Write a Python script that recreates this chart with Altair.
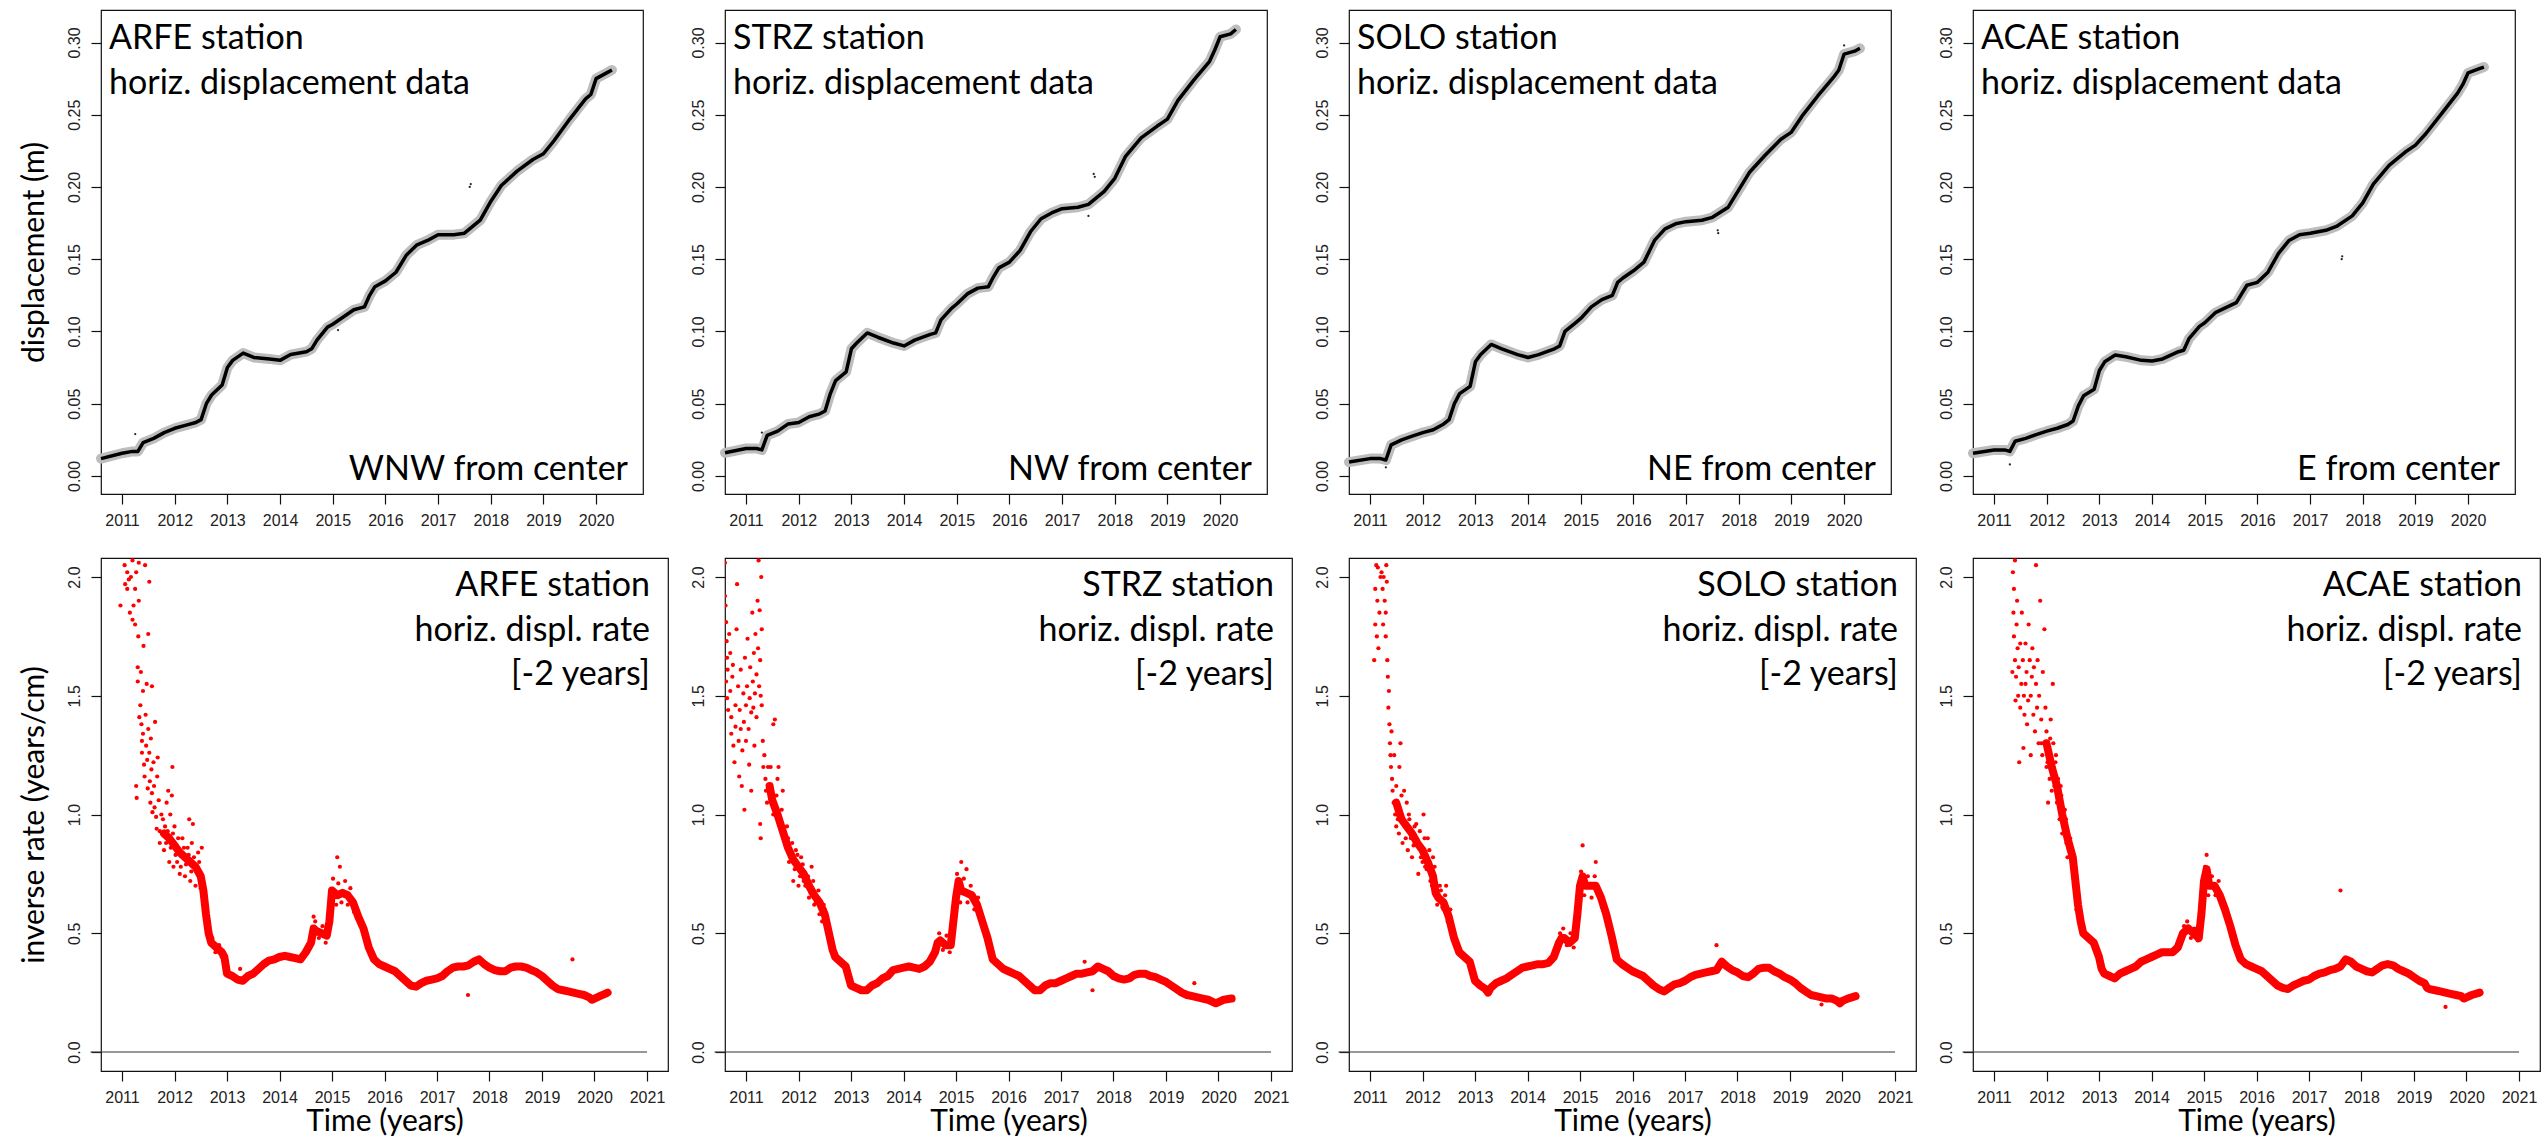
import altair as alt
import pandas as pd

STATIONS = ["ARFE", "STRZ", "SOLO", "ACAE"]
DIRECTIONS = ["WNW from center", "NW from center", "NE from center", "E from center"]
YEAR_TICKS_TOP = [2011, 2012, 2013, 2014, 2015, 2016, 2017, 2018, 2019, 2020]
YEAR_TICKS_BOT = [2011, 2012, 2013, 2014, 2015, 2016, 2017, 2018, 2019, 2020, 2021]
DISP_TICKS = [0.0, 0.05, 0.10, 0.15, 0.20, 0.25, 0.30]
RATE_TICKS = [0.0, 0.5, 1.0, 1.5, 2.0]

# ---- top row: horizontal displacement (m) ----
T_TOP = [2010.6, 2011.0, 2011.2, 2011.3, 2011.4, 2011.6, 2011.8, 2012.0, 2012.2, 2012.4,
         2012.5, 2012.6, 2012.7, 2012.9, 2013.0, 2013.1, 2013.3, 2013.5, 2013.8, 2014.0,
         2014.2, 2014.5, 2014.6, 2014.7, 2014.9, 2015.0, 2015.2, 2015.4, 2015.6, 2015.7,
         2015.8, 2016.0, 2016.2, 2016.4, 2016.6, 2016.8, 2017.0, 2017.3, 2017.5, 2017.8,
         2018.0, 2018.2, 2018.5, 2018.8, 2019.0, 2019.2, 2019.5, 2019.8, 2019.9, 2020.0,
         2020.2, 2020.3]
ARFE_DISP = [0.012, 0.0157, 0.017, 0.017, 0.023, 0.026, 0.030, 0.033, 0.035, 0.037,
             0.039, 0.050, 0.056, 0.063, 0.075, 0.080, 0.085, 0.082, 0.081, 0.080,
             0.084, 0.086, 0.088, 0.094, 0.103, 0.105, 0.110, 0.115, 0.117, 0.125,
             0.131, 0.135, 0.141, 0.153, 0.160, 0.163, 0.167, 0.167, 0.168, 0.177,
             0.190, 0.201, 0.211, 0.219, 0.223, 0.232, 0.247, 0.261, 0.264, 0.275,
             0.279, 0.281]
STRZ_DISP = [0.016, 0.019, 0.019, 0.018, 0.028, 0.031, 0.036, 0.037, 0.041, 0.043,
             0.045, 0.057, 0.066, 0.072, 0.088, 0.092, 0.099, 0.096, 0.092, 0.090,
             0.094, 0.098, 0.099, 0.108, 0.116, 0.119, 0.126, 0.130, 0.131, 0.138,
             0.144, 0.148, 0.156, 0.169, 0.178, 0.182, 0.185, 0.186, 0.188, 0.197,
             0.206, 0.221, 0.234, 0.242, 0.247, 0.260, 0.274, 0.287, 0.295, 0.304,
             0.306, 0.309]
SOLO_DISP = [0.0096, 0.012, 0.012, 0.011, 0.0215, 0.025, 0.0275, 0.030, 0.032, 0.036,
             0.039, 0.050, 0.057, 0.062, 0.079, 0.084, 0.091, 0.088, 0.084, 0.082,
             0.084, 0.088, 0.090, 0.100, 0.106, 0.109, 0.117, 0.122, 0.125, 0.134,
             0.137, 0.142, 0.148, 0.163, 0.171, 0.1745, 0.176, 0.177, 0.179, 0.186,
             0.198, 0.210, 0.222, 0.233, 0.238, 0.249, 0.263, 0.276, 0.281, 0.292,
             0.294, 0.296]
ACAE_DISP = [0.0157, 0.018, 0.018, 0.017, 0.024, 0.026, 0.0286, 0.031, 0.033, 0.0356,
             0.038, 0.0485, 0.0555, 0.060, 0.073, 0.079, 0.0837, 0.0825, 0.080, 0.0795,
             0.081, 0.086, 0.087, 0.095, 0.1035, 0.106, 0.113, 0.1165, 0.120, 0.126,
             0.132, 0.134, 0.141, 0.154, 0.163, 0.167, 0.168, 0.170, 0.1727, 0.180,
             0.189, 0.202, 0.215, 0.224, 0.229, 0.237, 0.251, 0.265, 0.271, 0.279,
             0.2817, 0.283]
ARFE_DISP_OUT = [(2011.25, 0.029), (2017.6, 0.200), (2017.62, 0.202), (2015.1, 0.101)]
STRZ_DISP_OUT = [(2011.3, 0.030), (2017.6, 0.209), (2017.62, 0.207), (2017.5, 0.180)]
SOLO_DISP_OUT = [(2017.6, 0.170), (2017.61, 0.168), (2011.3, 0.006), (2020.0, 0.298)]
ACAE_DISP_OUT = [(2017.6, 0.150), (2017.61, 0.152), (2011.3, 0.008)]

# ---- bottom row: inverse displacement rate (years/cm) ----
ARFE_RATE = [(2011.8, 0.92), (2011.9, 0.90), (2012.0, 0.87), (2012.1, 0.84), (2012.2, 0.82),
             (2012.3, 0.80), (2012.4, 0.78), (2012.5, 0.74), (2012.55, 0.68), (2012.6, 0.58),
             (2012.65, 0.50), (2012.7, 0.46), (2012.8, 0.44), (2012.9, 0.42), (2012.95, 0.40),
             (2013.0, 0.33), (2013.1, 0.32), (2013.2, 0.305), (2013.3, 0.30), (2013.4, 0.32),
             (2013.5, 0.33), (2013.6, 0.35), (2013.7, 0.37), (2013.8, 0.385), (2013.9, 0.39),
             (2014.0, 0.40), (2014.1, 0.405), (2014.2, 0.40), (2014.3, 0.395), (2014.4, 0.39),
             (2014.5, 0.42), (2014.6, 0.46), (2014.65, 0.52), (2014.7, 0.51), (2014.8, 0.50),
             (2014.9, 0.49), (2014.95, 0.55), (2015.0, 0.68), (2015.1, 0.66), (2015.2, 0.67),
             (2015.3, 0.66), (2015.4, 0.63), (2015.5, 0.57), (2015.6, 0.52), (2015.7, 0.44),
             (2015.8, 0.39), (2015.9, 0.37), (2016.0, 0.36), (2016.1, 0.35), (2016.2, 0.34),
             (2016.3, 0.32), (2016.4, 0.30), (2016.5, 0.28), (2016.6, 0.275), (2016.7, 0.29),
             (2016.8, 0.30), (2016.9, 0.305), (2017.0, 0.31), (2017.1, 0.32), (2017.2, 0.34),
             (2017.3, 0.355), (2017.4, 0.36), (2017.5, 0.36), (2017.6, 0.365), (2017.7, 0.38),
             (2017.8, 0.39), (2017.9, 0.37), (2018.0, 0.355), (2018.1, 0.345), (2018.2, 0.34),
             (2018.3, 0.34), (2018.4, 0.355), (2018.5, 0.36), (2018.6, 0.36), (2018.7, 0.355),
             (2018.8, 0.345), (2018.9, 0.335), (2019.0, 0.32), (2019.1, 0.30), (2019.2, 0.28),
             (2019.3, 0.265), (2019.4, 0.26), (2019.5, 0.255), (2019.6, 0.25), (2019.7, 0.245),
             (2019.8, 0.24), (2019.9, 0.23), (2019.95, 0.22), (2020.0, 0.225), (2020.1, 0.235),
             (2020.2, 0.245), (2020.25, 0.25)]
ARFE_RATE_PTS = [(2010.97, 1.88), (2011.05, 2.05), (2011.06, 1.97), (2011.1, 1.95), (2011.1, 2.02),
                 (2011.13, 1.99), (2011.15, 1.85), (2011.17, 2.0), (2011.2, 1.82), (2011.2, 2.07),
                 (2011.22, 1.88), (2011.25, 1.8), (2011.25, 1.95), (2011.27, 2.02), (2011.27, 1.12),
                 (2011.28, 1.07), (2011.3, 1.62), (2011.3, 1.56), (2011.31, 1.75), (2011.32, 1.9),
                 (2011.32, 2.06), (2011.33, 1.41), (2011.35, 1.46), (2011.36, 1.6), (2011.37, 1.38),
                 (2011.38, 1.31), (2011.38, 1.26), (2011.4, 1.52), (2011.4, 1.34), (2011.41, 1.71),
                 (2011.42, 1.21), (2011.43, 1.16), (2011.44, 2.05), (2011.45, 1.42), (2011.46, 1.29),
                 (2011.47, 1.55), (2011.48, 1.23), (2011.49, 1.11), (2011.5, 1.36), (2011.5, 1.76),
                 (2011.52, 1.26), (2011.53, 1.14), (2011.54, 1.05), (2011.52, 1.98), (2011.55, 1.32),
                 (2011.56, 1.19), (2011.57, 1.09), (2011.58, 1.01), (2011.57, 1.54), (2011.6, 1.22),
                 (2011.61, 1.12), (2011.62, 1.03), (2011.63, 1.39), (2011.65, 0.99), (2011.66, 0.94),
                 (2011.67, 1.16), (2011.68, 1.24), (2011.7, 1.06), (2011.72, 0.93), (2011.75, 1.0),
                 (2011.8, 0.85), (2011.82, 0.95), (2011.85, 1.05), (2011.88, 1.1), (2011.9, 0.8),
                 (2011.92, 1.0), (2011.95, 1.08), (2011.96, 1.2), (2011.98, 0.78), (2012.0, 0.95),
                 (2012.05, 0.8), (2012.1, 0.75), (2012.15, 0.9), (2012.2, 0.74), (2012.25, 0.86),
                 (2012.28, 0.98), (2012.3, 0.72), (2012.33, 0.88), (2012.35, 0.96), (2012.4, 0.7),
                 (2012.45, 0.84), (2012.5, 0.69), (2012.52, 0.86), (2012.55, 0.62), (2013.25, 0.35),
                 (2017.59, 0.24), (2019.58, 0.39), (2015.1, 0.82), (2015.15, 0.78), (2014.65, 0.57),
                 (2011.72, 0.88), (2011.78, 0.98), (2011.84, 0.88), (2011.87, 0.93), (2011.93, 0.86),
                 (2011.97, 0.92), (2012.02, 0.83), (2012.07, 0.9), (2012.12, 0.78), (2012.18, 0.86),
                 (2012.22, 0.79), (2012.27, 0.83), (2012.32, 0.76), (2012.37, 0.82), (2012.42, 0.76),
                 (2012.47, 0.8), (2012.53, 0.72), (2012.58, 0.64), (2012.62, 0.55), (2015.02, 0.73),
                 (2015.08, 0.62), (2015.12, 0.71), (2015.18, 0.63), (2015.25, 0.72), (2015.3, 0.62),
                 (2015.35, 0.69), (2015.42, 0.59), (2015.47, 0.6), (2014.62, 0.49), (2014.68, 0.55),
                 (2014.75, 0.48), (2014.82, 0.53), (2014.88, 0.46), (2012.72, 0.48), (2012.78, 0.42),
                 (2012.85, 0.45), (2012.9, 0.40)]

STRZ_RATE = [(2011.45, 1.12), (2011.5, 1.06), (2011.6, 1.0), (2011.7, 0.93), (2011.8, 0.86),
             (2011.9, 0.81), (2012.0, 0.78), (2012.1, 0.75), (2012.2, 0.70), (2012.3, 0.66),
             (2012.4, 0.63), (2012.5, 0.58), (2012.6, 0.48), (2012.65, 0.43), (2012.7, 0.40),
             (2012.8, 0.38), (2012.9, 0.36), (2013.0, 0.28), (2013.1, 0.27), (2013.2, 0.26),
             (2013.3, 0.26), (2013.4, 0.28), (2013.5, 0.29), (2013.6, 0.31), (2013.7, 0.32),
             (2013.8, 0.345), (2013.9, 0.35), (2014.0, 0.355), (2014.1, 0.36), (2014.2, 0.355),
             (2014.3, 0.35), (2014.4, 0.36), (2014.5, 0.38), (2014.6, 0.42), (2014.65, 0.46),
             (2014.7, 0.47), (2014.8, 0.45), (2014.9, 0.45), (2014.95, 0.55), (2015.0, 0.65),
             (2015.05, 0.72), (2015.1, 0.68), (2015.2, 0.67), (2015.3, 0.66), (2015.4, 0.62),
             (2015.5, 0.55), (2015.6, 0.48), (2015.7, 0.39), (2015.8, 0.37), (2015.9, 0.35),
             (2016.0, 0.34), (2016.1, 0.33), (2016.2, 0.32), (2016.3, 0.30), (2016.4, 0.28),
             (2016.5, 0.26), (2016.6, 0.26), (2016.7, 0.28), (2016.8, 0.29), (2016.9, 0.29),
             (2017.0, 0.30), (2017.1, 0.31), (2017.2, 0.32), (2017.3, 0.33), (2017.4, 0.33),
             (2017.5, 0.335), (2017.6, 0.34), (2017.7, 0.36), (2017.8, 0.35), (2017.9, 0.34),
             (2018.0, 0.32), (2018.1, 0.31), (2018.2, 0.305), (2018.3, 0.31), (2018.4, 0.325),
             (2018.5, 0.33), (2018.6, 0.33), (2018.7, 0.32), (2018.8, 0.315), (2018.9, 0.305),
             (2019.0, 0.295), (2019.1, 0.28), (2019.2, 0.265), (2019.3, 0.25), (2019.4, 0.24),
             (2019.5, 0.235), (2019.6, 0.23), (2019.7, 0.225), (2019.8, 0.22), (2019.9, 0.21),
             (2019.95, 0.205), (2020.0, 0.21), (2020.1, 0.22), (2020.25, 0.225)]
STRZ_RATE_PTS = [(2010.6, 2.06), (2010.6, 1.92), (2010.61, 1.88), (2010.62, 1.81), (2010.63, 1.73),
                 (2010.64, 1.66), (2010.65, 1.61), (2010.62, 1.56), (2010.64, 1.49), (2010.66, 1.44),
                 (2010.68, 1.76), (2010.7, 1.68), (2010.7, 1.52), (2010.72, 1.41), (2010.72, 1.34),
                 (2010.74, 1.58), (2010.75, 1.63), (2010.76, 1.29), (2010.78, 1.22), (2010.8, 1.46),
                 (2010.8, 1.37), (2010.82, 1.78), (2010.83, 1.97), (2010.85, 1.54), (2010.86, 1.31),
                 (2010.87, 1.16), (2010.88, 1.44), (2010.9, 1.36), (2010.9, 1.61), (2010.92, 1.12),
                 (2010.93, 1.27), (2010.95, 1.51), (2010.96, 1.39), (2010.97, 1.02), (2010.98, 1.66),
                 (2011.0, 1.31), (2011.0, 1.46), (2011.02, 1.54), (2011.03, 1.74), (2011.05, 1.36),
                 (2011.06, 1.21), (2011.07, 1.49), (2011.08, 1.62), (2011.1, 1.1), (2011.1, 1.43),
                 (2011.12, 1.85), (2011.13, 1.56), (2011.14, 1.45), (2011.15, 1.68), (2011.16, 1.29),
                 (2011.17, 1.51), (2011.18, 1.76), (2011.2, 1.59), (2011.2, 1.41), (2011.22, 1.9),
                 (2011.23, 1.7), (2011.24, 2.07), (2011.25, 1.54), (2011.26, 1.86), (2011.27, 1.65),
                 (2011.27, 0.96), (2011.28, 1.5), (2011.28, 0.9), (2011.29, 2.0), (2011.3, 1.46),
                 (2011.3, 1.78), (2011.32, 1.31), (2011.33, 1.2), (2011.35, 1.25), (2011.37, 1.15),
                 (2011.38, 1.1), (2011.4, 1.05), (2011.42, 1.2), (2011.45, 1.12), (2011.5, 1.08),
                 (2011.52, 1.38), (2011.55, 1.0), (2011.55, 1.4), (2011.6, 1.15), (2011.62, 1.2),
                 (2011.65, 0.95), (2011.7, 1.1), (2011.75, 0.88), (2011.8, 0.9), (2011.85, 0.82),
                 (2011.9, 0.72), (2011.95, 0.85), (2012.0, 0.7), (2012.05, 0.82), (2012.1, 0.72),
                 (2012.2, 0.65), (2012.25, 0.78), (2012.3, 0.62), (2012.4, 0.58), (2012.45, 0.55),
                 (2012.5, 0.6), (2017.6, 0.26), (2017.45, 0.38), (2019.54, 0.29), (2015.1, 0.8),
                 (2015.2, 0.77), (2011.47, 1.2), (2011.52, 1.0), (2011.58, 1.08), (2011.63, 0.97),
                 (2011.68, 1.02), (2011.72, 0.9), (2011.78, 0.95), (2011.82, 0.8), (2011.88, 0.88),
                 (2011.93, 0.77), (2011.98, 0.83), (2012.03, 0.74), (2012.08, 0.79), (2012.13, 0.7),
                 (2012.18, 0.74), (2012.23, 0.67), (2012.28, 0.72), (2012.33, 0.63), (2012.38, 0.68),
                 (2012.43, 0.6), (2012.48, 0.62), (2015.02, 0.75), (2015.08, 0.63), (2015.15, 0.73),
                 (2015.22, 0.63), (2015.28, 0.7), (2015.35, 0.6), (2015.42, 0.65), (2014.62, 0.45),
                 (2014.68, 0.5), (2014.75, 0.43), (2014.82, 0.49), (2014.88, 0.42)]

SOLO_RATE = [(2011.5, 1.05), (2011.6, 0.98), (2011.7, 0.95), (2011.8, 0.92), (2011.9, 0.88),
             (2012.0, 0.85), (2012.1, 0.80), (2012.2, 0.74), (2012.25, 0.67), (2012.3, 0.65),
             (2012.4, 0.63), (2012.5, 0.57), (2012.6, 0.48), (2012.7, 0.42), (2012.8, 0.40),
             (2012.9, 0.38), (2013.0, 0.30), (2013.1, 0.28), (2013.2, 0.265), (2013.25, 0.25),
             (2013.3, 0.27), (2013.4, 0.29), (2013.5, 0.30), (2013.6, 0.31), (2013.7, 0.325),
             (2013.8, 0.34), (2013.9, 0.355), (2014.0, 0.36), (2014.1, 0.365), (2014.2, 0.37),
             (2014.3, 0.37), (2014.4, 0.375), (2014.5, 0.40), (2014.6, 0.46), (2014.65, 0.48),
             (2014.7, 0.48), (2014.8, 0.46), (2014.9, 0.48), (2014.95, 0.58), (2015.0, 0.70),
             (2015.05, 0.74), (2015.1, 0.70), (2015.2, 0.70), (2015.3, 0.70), (2015.4, 0.65),
             (2015.5, 0.58), (2015.6, 0.49), (2015.7, 0.39), (2015.8, 0.37), (2015.9, 0.355),
             (2016.0, 0.34), (2016.1, 0.33), (2016.2, 0.32), (2016.3, 0.30), (2016.4, 0.28),
             (2016.5, 0.265), (2016.6, 0.255), (2016.7, 0.27), (2016.8, 0.285), (2016.9, 0.29),
             (2017.0, 0.30), (2017.1, 0.315), (2017.2, 0.325), (2017.3, 0.33), (2017.4, 0.335),
             (2017.5, 0.34), (2017.6, 0.345), (2017.7, 0.38), (2017.8, 0.36), (2017.9, 0.345),
             (2018.0, 0.335), (2018.1, 0.32), (2018.2, 0.315), (2018.3, 0.33), (2018.4, 0.35),
             (2018.5, 0.355), (2018.6, 0.355), (2018.7, 0.34), (2018.8, 0.33), (2018.9, 0.315),
             (2019.0, 0.305), (2019.1, 0.29), (2019.2, 0.27), (2019.3, 0.255), (2019.4, 0.24),
             (2019.5, 0.235), (2019.6, 0.23), (2019.7, 0.225), (2019.8, 0.225), (2019.9, 0.215),
             (2019.95, 0.205), (2020.0, 0.215), (2020.1, 0.225), (2020.25, 0.235)]
SOLO_RATE_PTS = [(2011.08, 1.65), (2011.1, 1.8), (2011.1, 1.95), (2011.12, 2.05), (2011.13, 1.75),
                 (2011.14, 1.9), (2011.15, 2.04), (2011.16, 1.7), (2011.18, 1.85), (2011.2, 2.0),
                 (2011.22, 2.02), (2011.24, 1.95), (2011.25, 1.8), (2011.26, 2.0), (2011.28, 1.9),
                 (2011.3, 1.85), (2011.3, 1.75), (2011.31, 2.05), (2011.32, 1.98), (2011.33, 1.65),
                 (2011.34, 1.58), (2011.35, 1.45), (2011.36, 1.52), (2011.37, 1.38), (2011.38, 1.3),
                 (2011.39, 1.25), (2011.4, 1.2), (2011.41, 1.35), (2011.42, 1.15), (2011.43, 1.1),
                 (2011.45, 1.05), (2011.46, 1.25), (2011.48, 1.0), (2011.5, 1.12), (2011.5, 0.95),
                 (2011.52, 1.05), (2011.55, 0.92), (2011.56, 1.2), (2011.58, 1.3), (2011.6, 1.0),
                 (2011.62, 0.88), (2011.65, 1.1), (2011.67, 0.95), (2011.7, 1.05), (2011.72, 0.85),
                 (2011.75, 0.98), (2011.78, 0.9), (2011.8, 0.82), (2011.85, 0.95), (2011.9, 0.88),
                 (2011.92, 0.75), (2011.95, 0.93), (2012.0, 0.8), (2012.02, 1.0), (2012.05, 0.78),
                 (2012.1, 0.9), (2012.15, 0.72), (2012.2, 0.82), (2012.25, 0.7), (2012.3, 0.64),
                 (2012.35, 0.68), (2012.4, 0.6), (2012.45, 0.7), (2012.5, 0.58), (2017.6, 0.45),
                 (2019.6, 0.2), (2015.05, 0.87), (2015.3, 0.8), (2011.53, 0.98), (2011.6, 1.08),
                 (2011.68, 0.9), (2011.74, 1.0), (2011.83, 0.87), (2011.88, 0.96), (2011.97, 0.82),
                 (2012.04, 0.9), (2012.08, 0.77), (2012.13, 0.85), (2012.18, 0.7), (2012.23, 0.78),
                 (2012.28, 0.62), (2012.33, 0.7), (2012.38, 0.61), (2012.43, 0.66), (2012.48, 0.55),
                 (2012.53, 0.6), (2015.02, 0.76), (2015.08, 0.66), (2015.15, 0.74), (2015.22, 0.65),
                 (2015.28, 0.74), (2015.35, 0.66), (2015.42, 0.61), (2014.62, 0.5), (2014.68, 0.52),
                 (2014.75, 0.45), (2014.82, 0.5), (2014.88, 0.44)]

ACAE_RATE = [(2012.0, 1.3), (2012.1, 1.2), (2012.2, 1.12), (2012.3, 1.0), (2012.4, 0.9),
             (2012.5, 0.82), (2012.55, 0.72), (2012.6, 0.62), (2012.65, 0.55), (2012.7, 0.50),
             (2012.8, 0.48), (2012.9, 0.46), (2013.0, 0.40), (2013.05, 0.35), (2013.1, 0.33),
             (2013.2, 0.32), (2013.3, 0.31), (2013.4, 0.33), (2013.5, 0.34), (2013.6, 0.35),
             (2013.7, 0.36), (2013.8, 0.38), (2013.9, 0.39), (2014.0, 0.40), (2014.1, 0.41),
             (2014.2, 0.42), (2014.3, 0.42), (2014.4, 0.42), (2014.5, 0.44), (2014.6, 0.50),
             (2014.7, 0.52), (2014.8, 0.50), (2014.9, 0.48), (2014.95, 0.58), (2015.0, 0.72),
             (2015.05, 0.77), (2015.1, 0.70), (2015.2, 0.70), (2015.3, 0.66), (2015.4, 0.60),
             (2015.5, 0.53), (2015.6, 0.45), (2015.7, 0.39), (2015.8, 0.37), (2015.9, 0.36),
             (2016.0, 0.35), (2016.1, 0.34), (2016.2, 0.32), (2016.3, 0.30), (2016.4, 0.28),
             (2016.5, 0.27), (2016.6, 0.265), (2016.7, 0.28), (2016.8, 0.29), (2016.9, 0.30),
             (2017.0, 0.305), (2017.1, 0.32), (2017.2, 0.33), (2017.3, 0.335), (2017.4, 0.345),
             (2017.5, 0.35), (2017.6, 0.36), (2017.7, 0.39), (2017.8, 0.38), (2017.9, 0.36),
             (2018.0, 0.35), (2018.1, 0.34), (2018.2, 0.335), (2018.3, 0.35), (2018.4, 0.365),
             (2018.5, 0.37), (2018.6, 0.365), (2018.7, 0.35), (2018.8, 0.34), (2018.9, 0.33),
             (2019.0, 0.315), (2019.1, 0.30), (2019.2, 0.29), (2019.25, 0.27), (2019.3, 0.265),
             (2019.4, 0.26), (2019.5, 0.255), (2019.6, 0.25), (2019.7, 0.245), (2019.8, 0.24),
             (2019.9, 0.235), (2019.95, 0.225), (2020.0, 0.23), (2020.1, 0.24), (2020.25, 0.25)]
ACAE_RATE_PTS = [(2011.35, 1.6), (2011.36, 2.02), (2011.37, 1.85), (2011.38, 1.95), (2011.38, 1.75),
                 (2011.4, 2.07), (2011.4, 1.65), (2011.41, 1.48), (2011.42, 1.58), (2011.43, 1.8),
                 (2011.44, 1.9), (2011.45, 1.7), (2011.46, 1.5), (2011.47, 1.62), (2011.48, 1.22),
                 (2011.5, 1.72), (2011.5, 1.45), (2011.52, 1.55), (2011.53, 1.85), (2011.55, 1.65),
                 (2011.56, 1.28), (2011.57, 1.5), (2011.58, 1.42), (2011.6, 1.72), (2011.6, 1.55),
                 (2011.62, 1.6), (2011.63, 1.38), (2011.65, 1.48), (2011.66, 1.8), (2011.68, 1.65),
                 (2011.7, 1.5), (2011.7, 1.25), (2011.72, 1.58), (2011.73, 1.7), (2011.75, 1.42),
                 (2011.76, 1.62), (2011.78, 1.35), (2011.8, 1.55), (2011.8, 2.05), (2011.82, 1.45),
                 (2011.83, 1.65), (2011.85, 1.3), (2011.86, 1.5), (2011.88, 1.9), (2011.9, 1.4),
                 (2011.9, 1.3), (2011.92, 1.25), (2011.93, 1.6), (2011.95, 1.3), (2011.96, 1.78),
                 (2011.98, 1.45), (2012.0, 1.2), (2012.0, 1.35), (2012.02, 1.3), (2012.03, 1.05),
                 (2012.05, 1.25), (2012.06, 1.15), (2012.08, 1.4), (2012.1, 1.2), (2012.1, 1.1),
                 (2012.12, 1.55), (2012.13, 1.3), (2012.15, 1.12), (2012.17, 1.22), (2012.2, 1.05),
                 (2012.22, 1.15), (2012.25, 0.98), (2012.28, 1.08), (2012.3, 0.92), (2012.35, 1.02),
                 (2012.38, 0.88), (2012.4, 0.82), (2012.45, 0.9), (2012.5, 0.78), (2012.55, 0.72),
                 (2012.57, 0.6), (2017.6, 0.68), (2019.6, 0.19), (2015.05, 0.83), (2012.02, 1.22),
                 (2012.07, 1.32), (2012.12, 1.18), (2012.18, 1.25), (2012.23, 1.08), (2012.27, 1.12),
                 (2012.32, 0.95), (2012.37, 0.98), (2012.42, 0.86), (2012.47, 0.85), (2012.52, 0.76),
                 (2012.6, 0.65), (2012.63, 0.58), (2012.68, 0.52), (2015.02, 0.78), (2015.08, 0.66),
                 (2015.15, 0.74), (2015.22, 0.66), (2015.28, 0.72), (2015.35, 0.62), (2015.42, 0.6),
                 (2014.62, 0.53), (2014.68, 0.55), (2014.75, 0.48), (2014.82, 0.52), (2014.88, 0.47)]

DISP = [ARFE_DISP, STRZ_DISP, SOLO_DISP, ACAE_DISP]
DISP_OUT = [ARFE_DISP_OUT, STRZ_DISP_OUT, SOLO_DISP_OUT, ACAE_DISP_OUT]
RATE = [ARFE_RATE, STRZ_RATE, SOLO_RATE, ACAE_RATE]
RATE_PTS = [ARFE_RATE_PTS, STRZ_RATE_PTS, SOLO_RATE_PTS, ACAE_RATE_PTS]

W_TOP, H_TOP = 542, 484
W_BOT, H_BOT = 567, 513
TXT_FONT = "Lato"
TXT_SIZE = 34


def note(text, x, y, align):
    return alt.Chart(pd.DataFrame({"s": [text]})).mark_text(
        font=TXT_FONT, fontSize=TXT_SIZE, align=align, baseline="alphabetic", color="#000"
    ).encode(text="s:N", x=alt.value(x), y=alt.value(y))


def y_axis(values, fmt, title):
    kw = dict(values=values, format=fmt, labelAngle=270, labelAlign="center",
              labelBaseline="bottom", labelPadding=9, tickSize=10, labelOverlap=False,
              titlePadding=17)
    kw["title"] = title if title else None
    return alt.Axis(**kw)


def x_axis(values, title):
    kw = dict(values=values, format="d", labelPadding=8, tickSize=10, labelOverlap=False,
              labelFlush=False, titlePadding=1)
    kw["title"] = title if title else None
    return alt.Axis(**kw)


def top_panel(i):
    df = pd.DataFrame({"t": T_TOP, "d": DISP[i]})
    out = pd.DataFrame(DISP_OUT[i], columns=["t", "d"])
    X = alt.X("t:Q", scale=alt.Scale(domain=[2010.6, 2020.89], nice=False, zero=False),
              axis=x_axis(YEAR_TICKS_TOP, None))
    Y = alt.Y("d:Q", scale=alt.Scale(domain=[-0.0125, 0.3225], nice=False, zero=False),
              axis=y_axis(DISP_TICKS, ".2f", "displacement (m)" if i == 0 else None))
    halo = alt.Chart(df).mark_line(color="#bdbdbd", strokeWidth=10, strokeCap="round",
                                   strokeJoin="round").encode(x=X, y=Y)
    core = alt.Chart(df).mark_line(color="#000", strokeWidth=3.5, strokeJoin="round").encode(x=X, y=Y)
    dots = alt.Chart(out).mark_circle(color="#222", size=5, opacity=1).encode(x=X, y=Y)
    return alt.layer(
        halo, core, dots,
        note(STATIONS[i] + " station", 8, 39, "left"),
        note("horiz. displacement data", 8, 84, "left"),
        note(DIRECTIONS[i], W_TOP - 15, H_TOP - 14, "right"),
    ).properties(width=W_TOP, height=H_TOP)


def bottom_panel(i):
    line_df = pd.DataFrame(RATE[i], columns=["t", "v"])
    pts_df = pd.DataFrame(RATE_PTS[i], columns=["t", "v"])
    zero_df = pd.DataFrame({"t": [2010.4], "t2": [2021.0], "v": [0.0]})
    X = alt.X("t:Q", scale=alt.Scale(domain=[2010.6, 2021.4], nice=False, zero=False),
              axis=x_axis(YEAR_TICKS_BOT, "Time (years)"))
    Y = alt.Y("v:Q", scale=alt.Scale(domain=[-0.08, 2.08], nice=False, zero=False),
              axis=y_axis(RATE_TICKS, ".1f", "inverse rate (years/cm)" if i == 0 else None))
    zero = alt.Chart(zero_df).mark_rule(color="#333", strokeWidth=1.2, clip=False).encode(
        x=X, x2="t2:Q", y=Y)
    band = alt.Chart(line_df).mark_line(color="#ff0000", strokeWidth=8, strokeCap="round",
                                        strokeJoin="round", clip=True).encode(x=X, y=Y)
    pts = alt.Chart(pts_df).mark_circle(color="#ff0000", size=18, opacity=1, clip=True).encode(x=X, y=Y)
    return alt.layer(
        zero, band, pts,
        note(STATIONS[i] + " station", W_BOT - 18, 38, "right"),
        note("horiz. displ. rate", W_BOT - 18, 83, "right"),
        note("[-2 years]", W_BOT - 18, 127, "right"),
    ).properties(width=W_BOT, height=H_BOT)


panels = [top_panel(i) for i in range(4)] + [bottom_panel(i) for i in range(4)]

chart = alt.concat(
    *panels, columns=4, spacing={"row": 64, "column": 57}, bounds="flush", align="each"
).properties(
    padding={"left": 18, "top": 9, "right": 0, "bottom": 0}
).configure_view(
    stroke="#111", strokeWidth=1.2
).configure_axis(
    labelFont="Liberation Sans", labelFontSize=16, labelColor="#222",
    tickColor="#111", tickWidth=1.2, domain=False, grid=False,
    titleFont=TXT_FONT, titleFontSize=30, titleFontWeight="normal", titleColor="#000"
)

chart.save("out.html", embed_options={"renderer": "svg", "actions": False})
